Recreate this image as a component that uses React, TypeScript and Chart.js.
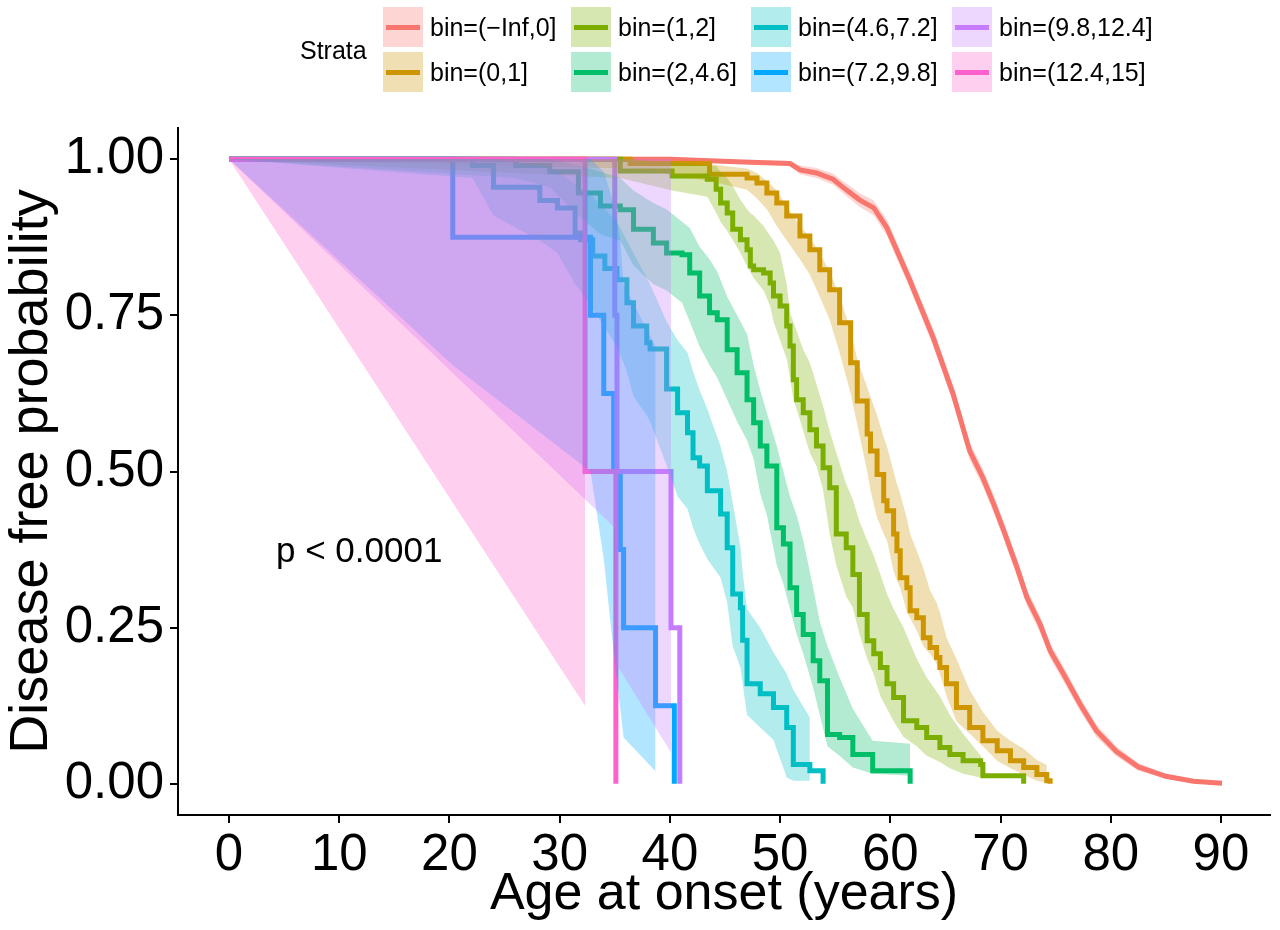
import React, { useEffect, useRef } from "react";
import { Chart, registerables } from "chart.js";

Chart.register(...registerables);

const FONT = "'Liberation Sans', Arial, Helvetica, sans-serif";

// ---------- categories / labels ----------
const strataLabels = [
  "bin=(\u2212Inf,0]",
  "bin=(0,1]",
  "bin=(1,2]",
  "bin=(2,4.6]",
  "bin=(4.6,7.2]",
  "bin=(7.2,9.8]",
  "bin=(9.8,12.4]",
  "bin=(12.4,15]",
];
const strataColors = ["#F8766D", "#CD9600", "#7CAE00", "#00BE67", "#00BFC4", "#00A9FF", "#C77CFF", "#FF61CC"];
const xTickValues = [0, 10, 20, 30, 40, 50, 60, 70, 80, 90];
const yTickValues = [0, 0.25, 0.5, 0.75, 1];
const xTitle = "Age at onset (years)";
const yTitle = "Disease free probability";
const legendTitle = "Strata";
const pValueText = "p < 0.0001";

// ---------- bin=(-Inf,0] ----------
const redTime = [0, 40.0, 47.3, 50.9, 51.8, 53.3, 54.8, 56.0, 57.2, 58.5, 59.7, 61.8, 63.9, 65.7, 67.2, 68.4, 69.4, 70.3, 71.5, 72.4, 73.6, 74.5, 75.7, 77.2, 78.7, 80.5, 82.5, 85.0, 87.5, 90.1];
const redSurv = [1, 1, 0.995, 0.993, 0.983, 0.978, 0.968, 0.951, 0.935, 0.922, 0.89, 0.805, 0.714, 0.624, 0.533, 0.49, 0.447, 0.405, 0.346, 0.298, 0.255, 0.213, 0.176, 0.128, 0.085, 0.052, 0.027, 0.012, 0.004, 0.001];
const redUpper = [1, 1, 0.998, 0.997, 0.99, 0.986, 0.977, 0.961, 0.946, 0.934, 0.903, 0.818, 0.728, 0.638, 0.547, 0.504, 0.461, 0.419, 0.36, 0.311, 0.268, 0.225, 0.188, 0.139, 0.095, 0.06, 0.033, 0.016, 0.007, 0.003];
const redLower = [1, 1, 0.992, 0.989, 0.976, 0.97, 0.959, 0.941, 0.924, 0.91, 0.877, 0.792, 0.7, 0.61, 0.519, 0.476, 0.433, 0.391, 0.332, 0.285, 0.242, 0.201, 0.164, 0.117, 0.075, 0.044, 0.021, 0.008, 0.002, 0];

// ---------- bin=(0,1] ----------
const orangeTime = [0, 36.4, 43.6, 47.0, 47.9, 48.8, 49.7, 50.6, 51.8, 52.7, 53.6, 54.5, 55.4, 56.4, 57.0, 57.9, 58.2, 58.8, 59.4, 59.7, 60.3, 60.6, 60.9, 61.5, 61.8, 62.4, 63.0, 63.6, 64.2, 64.5, 65.1, 66.0, 67.2, 68.4, 69.7, 70.9, 72.1, 73.3, 74.2, 74.5];
const orangeSurv = [1, 0.993, 0.976, 0.97, 0.962, 0.946, 0.93, 0.909, 0.877, 0.855, 0.823, 0.791, 0.738, 0.674, 0.613, 0.56, 0.533, 0.495, 0.453, 0.437, 0.4, 0.373, 0.33, 0.314, 0.277, 0.266, 0.234, 0.218, 0.202, 0.186, 0.16, 0.122, 0.09, 0.069, 0.053, 0.037, 0.026, 0.015, 0.005, 0];
const orangeBandTime = [0, 36.4, 43.6, 47.0, 47.9, 48.8, 49.7, 50.6, 51.8, 52.7, 53.6, 54.5, 55.4, 56.4, 57.0, 57.9, 58.2, 58.8, 59.4, 59.7, 60.3, 60.6, 60.9, 61.5, 61.8, 62.4, 63.0, 63.6, 64.2, 64.5, 65.1, 66.0, 67.2, 68.4, 69.7, 70.9, 72.1, 73.3, 74.2];
const orangeUpper = [1, 1, 0.992, 0.985, 0.978, 0.965, 0.95, 0.925, 0.893, 0.875, 0.85, 0.82, 0.781, 0.725, 0.68, 0.635, 0.62, 0.59, 0.555, 0.54, 0.5, 0.48, 0.464, 0.425, 0.4, 0.373, 0.345, 0.31, 0.29, 0.275, 0.234, 0.2, 0.15, 0.115, 0.085, 0.069, 0.056, 0.038, 0.03];
const orangeLower = [1, 0.985, 0.965, 0.951, 0.937, 0.92, 0.893, 0.87, 0.84, 0.815, 0.78, 0.743, 0.69, 0.625, 0.575, 0.5, 0.47, 0.426, 0.4, 0.389, 0.34, 0.325, 0.314, 0.275, 0.265, 0.245, 0.22, 0.208, 0.192, 0.176, 0.14, 0.1, 0.08, 0.06, 0.037, 0.025, 0.015, 0.005, 0.002];

// ---------- bin=(1,2] ----------
const oliveTime = [0, 35.5, 40.2, 43.4, 44.2, 44.6, 45.2, 45.7, 46.4, 47.0, 47.3, 47.6, 48.5, 49.1, 49.4, 50.0, 50.6, 50.9, 51.2, 51.5, 52.1, 52.7, 53.3, 53.9, 54.5, 55.1, 56.0, 56.6, 57.2, 57.9, 58.5, 59.1, 59.7, 60.3, 61.2, 62.4, 63.3, 64.5, 65.4, 66.6, 68.2, 68.4, 72.1];
const oliveSurv = [1, 0.981, 0.973, 0.968, 0.952, 0.93, 0.914, 0.888, 0.871, 0.855, 0.829, 0.823, 0.818, 0.802, 0.781, 0.765, 0.733, 0.701, 0.647, 0.615, 0.594, 0.567, 0.541, 0.506, 0.474, 0.4, 0.378, 0.335, 0.271, 0.229, 0.208, 0.186, 0.16, 0.138, 0.101, 0.09, 0.074, 0.058, 0.047, 0.037, 0.031, 0.013, 0];
const oliveBandTime = [0, 35.5, 40.2, 43.4, 44.2, 44.6, 45.2, 45.7, 46.4, 47.0, 47.3, 47.6, 48.5, 49.1, 49.4, 50.0, 50.6, 50.9, 51.2, 51.5, 52.1, 52.7, 53.3, 53.9, 54.5, 55.1, 56.0, 56.6, 57.2, 57.9, 58.5, 59.1, 59.7, 60.3, 61.2, 62.4, 63.3, 64.5, 65.4, 66.6, 68.2, 68.4];
const oliveUpper = [1, 1, 0.995, 0.99, 0.989, 0.98, 0.97, 0.957, 0.935, 0.92, 0.914, 0.91, 0.893, 0.877, 0.87, 0.85, 0.8, 0.754, 0.74, 0.725, 0.695, 0.674, 0.64, 0.605, 0.565, 0.53, 0.48, 0.455, 0.42, 0.39, 0.365, 0.335, 0.304, 0.28, 0.25, 0.2, 0.17, 0.14, 0.11, 0.08, 0.045, 0.037];
const oliveLower = [1, 0.97, 0.95, 0.94, 0.914, 0.9, 0.885, 0.871, 0.85, 0.829, 0.82, 0.81, 0.79, 0.765, 0.74, 0.71, 0.68, 0.65, 0.616, 0.6, 0.565, 0.53, 0.509, 0.47, 0.4, 0.35, 0.3, 0.282, 0.24, 0.2, 0.175, 0.14, 0.12, 0.1, 0.075, 0.06, 0.045, 0.035, 0.025, 0.016, 0.01, 0.008];

// ---------- bin=(2,4.6] ----------
const greenTime = [0, 26.0, 29.1, 31.7, 33.7, 35.5, 36.7, 38.5, 39.7, 41.1, 41.8, 42.7, 43.6, 44.3, 45.2, 46.1, 47.0, 47.6, 48.2, 48.8, 49.7, 50.3, 50.9, 51.5, 52.1, 53.0, 53.6, 54.3, 55.4, 56.6, 58.4, 61.8];
const greenSurv = [1, 0.99, 0.98, 0.946, 0.925, 0.919, 0.888, 0.866, 0.85, 0.847, 0.818, 0.781, 0.754, 0.743, 0.695, 0.658, 0.615, 0.578, 0.541, 0.509, 0.41, 0.384, 0.314, 0.271, 0.239, 0.197, 0.165, 0.079, 0.074, 0.047, 0.021, 0];
const greenUpper = [1, 1, 1, 0.99, 0.98, 0.97, 0.95, 0.93, 0.92, 0.9, 0.89, 0.86, 0.84, 0.82, 0.78, 0.75, 0.72, 0.67, 0.63, 0.594, 0.541, 0.5, 0.46, 0.43, 0.39, 0.314, 0.26, 0.22, 0.17, 0.12, 0.069, 0.064];
const greenLower = [1, 0.97, 0.955, 0.91, 0.88, 0.87, 0.83, 0.8, 0.79, 0.77, 0.74, 0.7, 0.67, 0.65, 0.615, 0.58, 0.55, 0.52, 0.464, 0.43, 0.35, 0.32, 0.28, 0.24, 0.208, 0.154, 0.11, 0.06, 0.045, 0.026, 0.016, 0.013];

// ---------- bin=(4.6,7.2] ----------
const tealTime = [0, 22.1, 24.0, 28.2, 29.8, 31.4, 31.9, 33.0, 34.1, 35.2, 36.1, 36.7, 37.9, 38.2, 39.7, 40.7, 41.6, 42.1, 42.7, 43.4, 44.6, 45.2, 45.7, 46.4, 46.6, 47.0, 48.2, 49.4, 50.6, 51.2, 52.7, 53.9];
const tealSurv = [1, 0.99, 0.955, 0.934, 0.922, 0.882, 0.871, 0.845, 0.825, 0.807, 0.77, 0.733, 0.706, 0.696, 0.632, 0.594, 0.562, 0.522, 0.509, 0.469, 0.432, 0.378, 0.304, 0.282, 0.23, 0.16, 0.144, 0.122, 0.09, 0.031, 0.021, 0];
const tealBandTime = [0, 22.1, 24.0, 28.2, 29.8, 31.4, 31.9, 33.0, 34.1, 35.2, 36.1, 36.7, 37.9, 38.2, 39.7, 40.7, 41.6, 42.1, 42.7, 43.4, 44.6, 45.2, 45.7, 46.4, 46.6, 47.0, 48.2, 49.4, 50.6, 51.2, 52.7];
const tealUpper = [1, 1, 1, 0.99, 0.98, 0.96, 0.955, 0.94, 0.92, 0.9, 0.87, 0.85, 0.81, 0.8, 0.74, 0.71, 0.69, 0.66, 0.63, 0.6, 0.54, 0.5, 0.45, 0.38, 0.34, 0.28, 0.25, 0.21, 0.176, 0.15, 0.106];
const tealLower = [1, 0.97, 0.91, 0.87, 0.85, 0.8, 0.79, 0.76, 0.73, 0.7, 0.66, 0.62, 0.59, 0.58, 0.51, 0.46, 0.44, 0.41, 0.384, 0.36, 0.33, 0.29, 0.22, 0.186, 0.16, 0.11, 0.09, 0.07, 0.01, 0.005, 0.005];

// ---------- bin=(7.2,9.8] ----------
const blueTime = [0, 20.3, 32.8, 34.0, 34.9, 35.5, 35.8, 38.7, 40.4];
const blueSurv = [1, 0.875, 0.75, 0.625, 0.5, 0.375, 0.25, 0.125, 0];
const blueBandTime = [0, 20.3, 32.8, 34.0, 34.9, 35.5, 35.8, 38.7];
const blueUpper = [1, 1, 1, 0.98, 0.93, 0.87, 0.8, 0.7];
const blueLower = [1, 0.67, 0.5, 0.36, 0.21, 0.12, 0.074, 0.02];

// ---------- bin=(9.8,12.4] ----------
const purpleTime = [0, 35.0, 35.2, 40.1, 40.9];
const purpleSurv = [1, 0.75, 0.5, 0.25, 0];
const purpleBandTime = [0, 35.0, 35.2, 40.1];
const purpleUpper = [1, 1, 1, 1];
const purpleLower = [1, 0.41, 0.19, 0.05];

// ---------- bin=(12.4,15] ----------
const pinkTime = [0, 32.3, 35.1];
const pinkSurv = [1, 0.5, 0];
const pinkBandTime = [0, 32.3];
const pinkUpper = [1, 1];
const pinkLower = [1, 0.125];

const lineTimes = [redTime, orangeTime, oliveTime, greenTime, tealTime, blueTime, purpleTime, pinkTime];
const lineSurvs = [redSurv, orangeSurv, oliveSurv, greenSurv, tealSurv, blueSurv, purpleSurv, pinkSurv];
const bandTimes = [redTime, orangeBandTime, oliveBandTime, greenTime, tealBandTime, blueBandTime, purpleBandTime, pinkBandTime];
const bandUppers = [redUpper, orangeUpper, oliveUpper, greenUpper, tealUpper, blueUpper, purpleUpper, pinkUpper];
const bandLowers = [redLower, orangeLower, oliveLower, greenLower, tealLower, blueLower, purpleLower, pinkLower];

// p-value annotation location (data coordinates)
const pValueAt = { x: 4.26, y: 0.37 };

function withAlpha(hex: string, a: number) {
  const n = parseInt(hex.slice(1), 16);
  return `rgba(${(n >> 16) & 255},${(n >> 8) & 255},${n & 255},${a})`;
}

const legendColLeft = [383, 571, 751, 952];
const legendRowTop = [7, 52];

export default function App() {
  const canvasRef = useRef<HTMLCanvasElement>(null);

  useEffect(() => {
    const canvas = canvasRef.current;
    if (!canvas) return;

    const lineSets: any[] = strataLabels.map((label, k) => ({
      label,
      data: lineTimes[k].map((t, i) => ({ x: t, y: lineSurvs[k][i] })),
      borderColor: strataColors[k],
      backgroundColor: strataColors[k],
      borderWidth: 5,
      pointRadius: 0,
      fill: false,
      stepped: k === 0 ? false : "before",
      borderJoinStyle: "miter",
      borderCapStyle: "butt",
      order: 100 - k,
    }));

    const bandSets: any[] = [];
    strataLabels.forEach((label, k) => {
      bandSets.push({
        label: label + " upper",
        data: bandTimes[k].map((t, i) => ({ x: t, y: bandUppers[k][i] })),
        borderWidth: 0,
        borderColor: "rgba(0,0,0,0)",
        backgroundColor: withAlpha(strataColors[k], 0.3),
        pointRadius: 0,
        fill: "+1",
        order: 50 - k,
      });
      bandSets.push({
        label: label + " lower",
        data: bandTimes[k].map((t, i) => ({ x: t, y: bandLowers[k][i] })),
        borderWidth: 0,
        borderColor: "rgba(0,0,0,0)",
        backgroundColor: "rgba(0,0,0,0)",
        pointRadius: 0,
        fill: false,
        order: 50 - k,
      });
    });

    const pvalPlugin = {
      id: "pvalText",
      afterDatasetsDraw(chart: any) {
        const { ctx, scales } = chart;
        ctx.save();
        ctx.font = `35px ${FONT}`;
        ctx.fillStyle = "#000";
        ctx.textAlign = "left";
        ctx.textBaseline = "middle";
        ctx.fillText(pValueText, scales.x.getPixelForValue(pValueAt.x), scales.y.getPixelForValue(pValueAt.y));
        ctx.restore();
      },
    };

    const axisGrid = {
      drawOnChartArea: false,
      drawTicks: true,
      tickLength: 8,
      color: "#000",
      lineWidth: 2,
    };

    const chart = new Chart(canvas, {
      type: "line",
      data: { datasets: [...lineSets, ...bandSets] },
      options: {
        animation: false,
        responsive: false,
        devicePixelRatio: 1,
        events: [],
        parsing: false as any,
        layout: { padding: { top: 128, right: 10, left: 0, bottom: 0 } },
        plugins: { legend: { display: false }, tooltip: { enabled: false } },
        scales: {
          x: {
            type: "linear",
            min: -4.63,
            max: 94.45,
            afterBuildTicks: (s: any) => {
              s.ticks = xTickValues.map((v) => ({ value: v }));
            },
            afterFit: (s: any) => {
              s.height = 115;
            },
            ticks: {
              font: { family: FONT, size: 51 },
              color: "#000",
              padding: 2,
              maxRotation: 0,
              autoSkip: false,
              callback: (v: any) => String(v),
            },
            grid: axisGrid as any,
            border: { display: true, color: "#000", width: 2 },
            title: {
              display: true,
              text: xTitle,
              color: "#000",
              font: { family: FONT, size: 52 },
              padding: { top: 0, bottom: 4 },
            },
          },
          y: {
            type: "linear",
            min: -0.05,
            max: 1.05,
            afterBuildTicks: (s: any) => {
              s.ticks = yTickValues.map((v) => ({ value: v }));
            },
            afterFit: (s: any) => {
              s.width = 178;
            },
            ticks: {
              font: { family: FONT, size: 51 },
              color: "#000",
              padding: 6,
              callback: (v: any) => Number(v).toFixed(2),
            },
            grid: axisGrid as any,
            border: { display: true, color: "#000", width: 2 },
            title: {
              display: true,
              text: yTitle,
              color: "#000",
              font: { family: FONT, size: 54 },
              padding: { top: 0, bottom: 0 },
            },
          },
        },
      },
      plugins: [pvalPlugin],
    } as any);

    return () => chart.destroy();
  }, []);

  return (
    <div style={{ position: "absolute", left: 0, top: 0, width: 1280, height: 930, background: "#fff", fontFamily: FONT }}>
      <canvas ref={canvasRef} width={1280} height={930} style={{ position: "absolute", left: 0, top: 0 }} />
      <div style={{ position: "absolute", left: 300, top: 36, fontSize: 25, lineHeight: "28px", color: "#000" }}>{legendTitle}</div>
      {strataLabels.map((label, k) => {
        const c = Math.floor(k / 2);
        const r = k % 2;
        const left = legendColLeft[c];
        const top = legendRowTop[r];
        return (
          <React.Fragment key={label}>
            <div
              style={{
                position: "absolute",
                left,
                top,
                width: 40,
                height: 40,
                background: withAlpha(strataColors[k], 0.3),
              }}
            >
              <div
                style={{
                  position: "absolute",
                  left: 3,
                  top: 17.5,
                  width: 34,
                  height: 5,
                  background: strataColors[k],
                }}
              />
            </div>
            <div
              style={{
                position: "absolute",
                left: left + 47,
                top: top + 5,
                fontSize: 25,
                lineHeight: "30px",
                color: "#000",
                whiteSpace: "nowrap",
              }}
            >
              {label}
            </div>
          </React.Fragment>
        );
      })}
    </div>
  );
}
